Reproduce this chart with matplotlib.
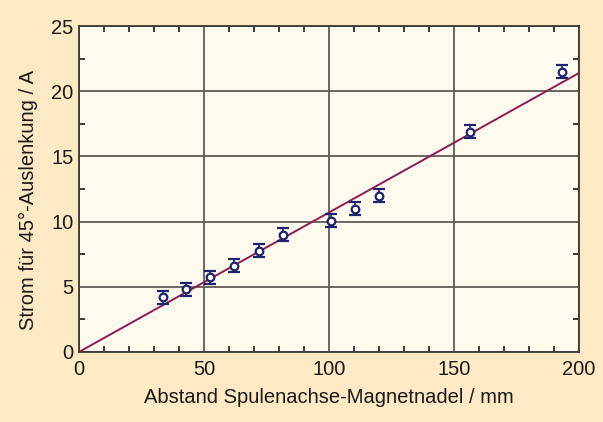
import matplotlib.pyplot as plt
import numpy as np

plt.rcParams["font.family"] = ["Liberation Sans", "DejaVu Sans"]

# Messwerte
abstand_mm = [33.6, 42.8, 52.4, 62.0, 72.0, 81.6, 100.8, 110.4, 120.0, 156.4, 193.2]
strom_a = [4.2, 4.8, 5.75, 6.6, 7.75, 9.0, 10.05, 11.0, 12.0, 16.9, 21.5]
fehler_a = [0.5, 0.5, 0.5, 0.5, 0.5, 0.5, 0.5, 0.5, 0.5, 0.5, 0.5]

# Ausgleichsgerade durch den Ursprung
fit_x = [0, 200]
fit_y = [0, 21.4]


def main():
    fig = plt.figure(figsize=(6.03, 4.22), dpi=100, facecolor="#fde9c3")
    ax = fig.add_axes([0.131, 0.166, 0.829, 0.772], facecolor="#fffaee")

    ax.plot(fit_x, fit_y, color="#8c1b4e", lw=1.4, zorder=3)
    ax.errorbar(abstand_mm, strom_a, yerr=fehler_a, fmt="o", ms=5.5,
                mfc="white", mec="#1c2470", mew=1.6, ecolor="#1c2470",
                elinewidth=1.2, capsize=4.5, capthick=2.0, zorder=4)

    ax.set_xlim(0, 200)
    ax.set_ylim(0, 25)
    ax.set_xticks(np.arange(0, 201, 50))
    ax.set_yticks(np.arange(0, 26, 5))
    ax.set_xticks(np.arange(0, 201, 10), minor=True)
    ax.set_yticks(np.arange(0, 25.1, 2.5), minor=True)
    ax.tick_params(which="both", direction="in", top=True, right=True,
                   labelsize=14.5, colors="#1a1a1a")
    ax.tick_params(which="major", length=0)
    ax.tick_params(axis="x", which="major", pad=6)
    ax.tick_params(axis="y", which="major", pad=4)
    ax.tick_params(which="minor", length=4, width=1.2)
    ax.grid(True, which="major", color="#5e5b53", lw=1.3)
    for s in ax.spines.values():
        s.set_color("#3a3a3a")
        s.set_linewidth(1.3)

    ax.set_xlabel("Abstand Spulenachse-Magnetnadel / mm", fontsize=14.5,
                  color="#1a1a1a", labelpad=6)
    ax.set_ylabel("Strom für 45°-Auslenkung / A", fontsize=14.5,
                  color="#1a1a1a")
    ax.yaxis.set_label_coords(-0.083, 0.466)

    fig.savefig("out.png", dpi=100, facecolor=fig.get_facecolor())
    plt.close(fig)


if __name__ == "__main__":
    main()
